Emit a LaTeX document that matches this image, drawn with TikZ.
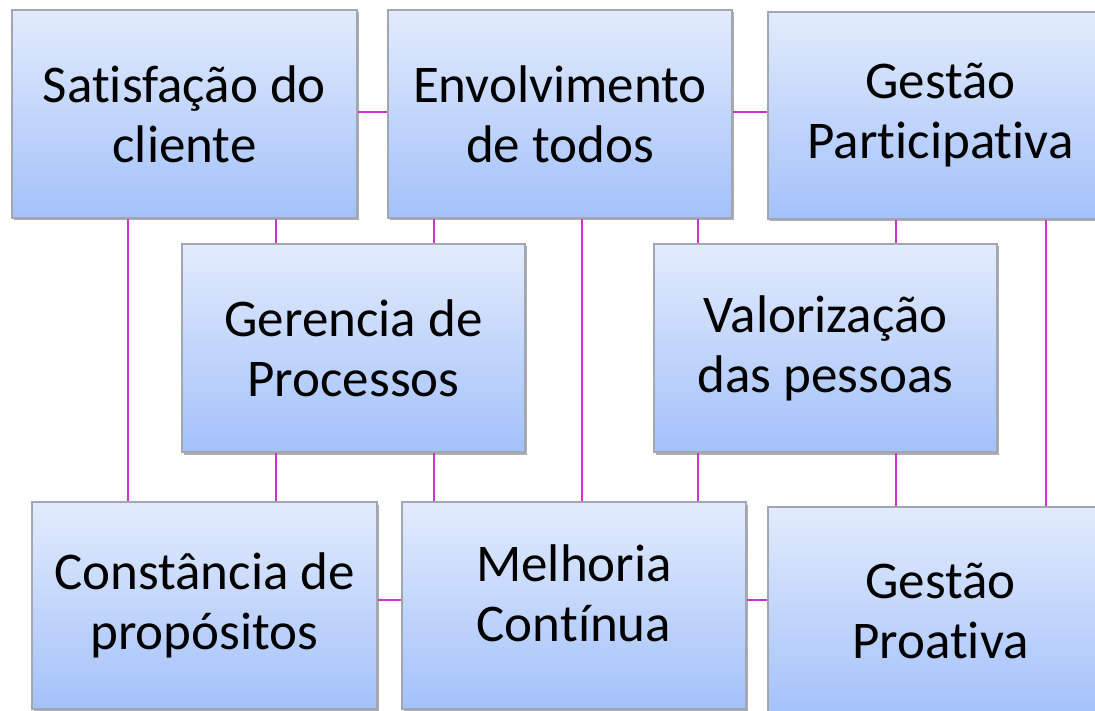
\documentclass[tikz,border=0pt]{standalone}
\usepackage{fontspec}
\setmainfont{Carlito}[Ligatures=NoCommon]
\usetikzlibrary{shadows}
\definecolor{boxtop}{HTML}{E2EBFC}
\definecolor{boxbot}{HTML}{A3C1FA}
\definecolor{boxline}{HTML}{A2A6B0}
\definecolor{link}{HTML}{D22ED2}
\tikzset{
  card/.style={rectangle, draw=boxline, line width=1.4pt, top color=boxtop, bottom color=boxbot,
    minimum width=#1, minimum height=208pt, inner sep=0pt, align=center,
    font=\fontsize{53}{60}\selectfont,
    drop shadow={shadow xshift=2pt, shadow yshift=-2.5pt, opacity=0.45, fill=black!70}},
  card/.default=345pt,
  link/.style={draw=link, line width=2pt}
}
\begin{document}
\begin{tikzpicture}[x=1pt,y=-1pt]
\useasboundingbox (0,0) rectangle (1095,711);
\clip (0,0) rectangle (1095,711);
\fill[white] (0,0) rectangle (1095,711);
% boxes
\node[card] (b1) at (184.5,114) {Satisfação do\\cliente};
\node[card=344pt] (b2) at (560,114) {Envolvimento\\de todos};
\node[card, minimum height=207pt] (b3) at (940.5,115.5) {Gestão\\Participativa};
\node[card=343pt] (b4) at (353.5,348) {Gerencia de\\Processos};
\node[card=343pt] (b5) at (825.5,348) {Valorização\\das pessoas};
\node[card, minimum height=207pt] (b6) at (204.5,605.5) {Constância de\\propósitos};
\node[card=344pt, minimum height=207pt] (b7) at (574,605.5) {Melhoria\\Contínua\rule[-24pt]{0pt}{24pt}};
\node[card] (b8) at (940.5,611) {Gestão\\Proativa};
% guide coordinates for connector columns and rows
\coordinate (ca) at (128,0);
\coordinate (cb) at (276,0);
\coordinate (cc) at (434,0);
\coordinate (cd) at (582,0);
\coordinate (ce) at (698,0);
\coordinate (cf) at (896,0);
\coordinate (cg) at (1046,0);
\coordinate (ra) at (0,112);
\coordinate (rb) at (0,600);
% horizontal connectors
\draw[link] (b1.east |- ra) -- (b2.west |- ra);
\draw[link] (b2.east |- ra) -- (b3.west |- ra);
\draw[link] (b6.east |- rb) -- (b7.west |- rb);
\draw[link] (b7.east |- rb) -- (b8.west |- rb);
% vertical connectors
\draw[link] (b1.south -| ca) -- (b6.north -| ca);
\draw[link] (b1.south -| cb) -- (b4.north -| cb);
\draw[link] (b4.south -| cb) -- (b6.north -| cb);
\draw[link] (b2.south -| cc) -- (b4.north -| cc);
\draw[link] (b4.south -| cc) -- (b7.north -| cc);
\draw[link] (b2.south -| cd) -- (b7.north -| cd);
\draw[link] (b2.south -| ce) -- (b5.north -| ce);
\draw[link] (b5.south -| ce) -- (b7.north -| ce);
\draw[link] (b3.south -| cf) -- (b5.north -| cf);
\draw[link] (b5.south -| cf) -- (b8.north -| cf);
\draw[link] (b3.south -| cg) -- (b8.north -| cg);
\end{tikzpicture}
\end{document}
